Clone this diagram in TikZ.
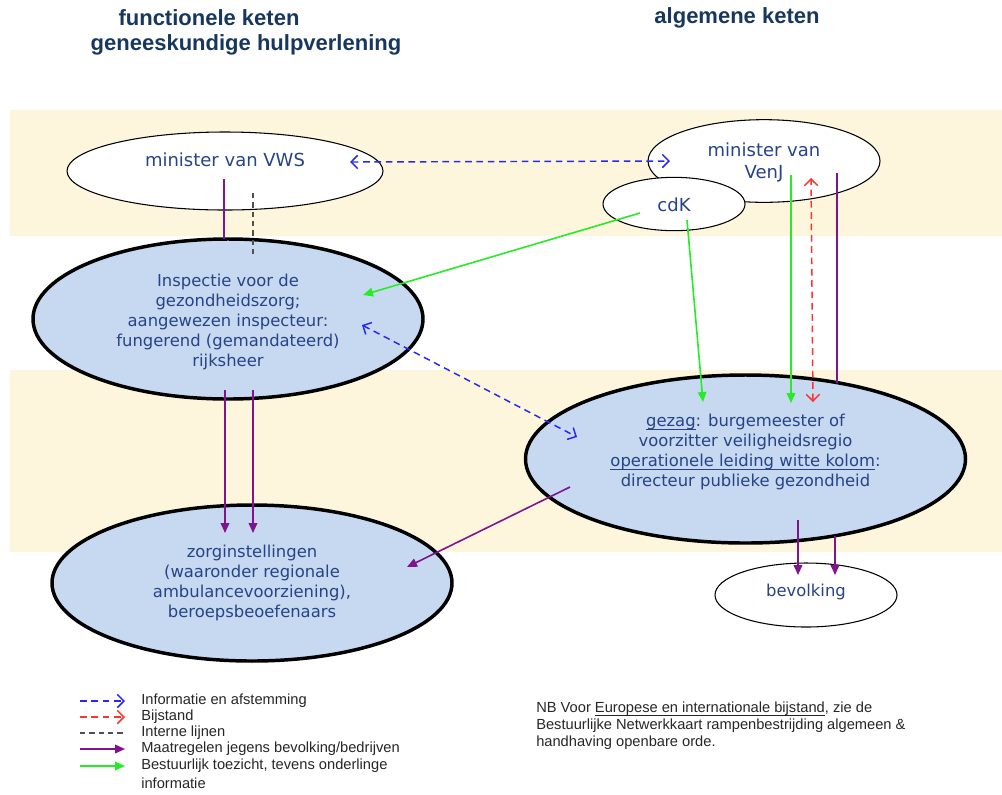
\documentclass[tikz,border=0pt]{standalone}
\usepackage{fontspec}
\setmainfont{DejaVu Sans}
\newfontfamily\arialf{Liberation Sans}
\usetikzlibrary{shapes.geometric,arrows.meta,calc}
\definecolor{cream}{RGB}{253,246,221}
\definecolor{lblue}{RGB}{198,217,241}
\definecolor{ntext}{RGB}{38,68,135}
\definecolor{ttext}{RGB}{23,55,94}
\definecolor{infoblue}{RGB}{40,40,240}
\definecolor{bred}{RGB}{250,50,50}
\definecolor{ggreen}{RGB}{40,235,40}
\definecolor{ppurple}{RGB}{128,20,140}
\definecolor{igray}{RGB}{80,80,80}
\newsavebox\ulbox
\newcommand\ulx[1]{\sbox\ulbox{#1}\rlap{\rule[-2.2pt]{\wd\ulbox}{0.6pt}}\usebox\ulbox}
\tikzset{
  ellbase/.style={ellipse, draw=black, inner sep=0pt},
  thinell/.style={ellbase, fill=white, line width=0.8pt},
  thickell/.style={ellbase, fill=lblue, line width=2.6pt},
  txt/.style={align=center, text=ntext, inner sep=0pt, font=\fontsize{12.3}{15}\selectfont},
  bigtxt/.style={txt, font=\fontsize{13.5}{16}\selectfont},
  title/.style={text=ttext, inner sep=0pt, font=\arialf\bfseries\fontsize{16.5}{20}\selectfont},
  legtxt/.style={anchor=west, inner sep=0pt, text=black!85, font=\arialf\fontsize{11}{12}\selectfont},
  barb/.tip={Straight Barb[length=5pt,width=10pt,line width=1.1pt]},
  tri/.tip={Triangle[length=7.5pt,width=6.5pt]},
  info/.style={draw=infoblue, line width=1.1pt, dash pattern=on 5pt off 3.5pt, barb-barb},
  infoone/.style={draw=infoblue, line width=1.1pt, dash pattern=on 5pt off 3.5pt, -barb},
  bijstand/.style={draw=bred, line width=1.1pt, dash pattern=on 5pt off 3.5pt, barb-barb},
  bijone/.style={draw=bred, line width=1.1pt, dash pattern=on 5pt off 3.5pt, -barb},
  intern/.style={draw=igray, line width=1pt, dash pattern=on 4pt off 3pt},
  maat/.style={draw=ppurple, line width=1.2pt, -tri},
  maatline/.style={draw=ppurple, line width=1.2pt},
  toez/.style={draw=ggreen, line width=1.2pt, -tri},
}
\begin{document}
\begin{tikzpicture}[x=0.75pt,y=-0.75pt]
\useasboundingbox (0,0) rectangle (1002,794);
\fill[cream] (10,110) rectangle (1002,236);
\fill[cream] (10,370) rectangle (1002,552);

% titles
\node[title] (t1a) at (209,18) {functionele keten};
\node[title] (t1b) at (246,45) {geneeskundige hulpverlening};
\node[title] (t2) at (737,18) {algemene keten};

% nodes
\node[thinell, minimum width=237pt, minimum height=58.5pt,
  label={[bigtxt,yshift=8.25pt]center:minister van VWS}] (vws) at (225,171) {};
\node[thinell, minimum width=174pt, minimum height=62pt,
  label={[bigtxt,yshift=-1pt]center:{minister van\\VenJ}}] (venj) at (764,161) {};
\node[thinell, minimum width=106.5pt, minimum height=40pt,
  label={[bigtxt,yshift=-0.5pt]center:cdK}] (cdk) at (674,204) {};
\node[thickell, minimum width=292.5pt, minimum height=120pt,
  label={[txt,yshift=-2pt]center:{Inspectie voor de\\gezondheidszorg;\\aangewezen inspecteur:\\fungerend (gemandateerd)\\rijksheer}}] (insp) at (228,319) {};
\node[thickell, minimum width=330pt, minimum height=126pt,
  label={[txt,yshift=5.25pt]center:{\ulx{gezag}: burgemeester of\\voorzitter veiligheidsregio\\\ulx{operationele leiding witte kolom}:\\directeur publieke gezondheid}}] (gez) at (745.5,459) {};
\node[thickell, minimum width=300pt, minimum height=117pt,
  label={[txt]center:{zorginstellingen\\(waaronder regionale\\ambulancevoorziening),\\beroepsbeoefenaars}}] (zorg) at (252,583) {};
\node[thinell, minimum width=136.5pt, minimum height=48pt,
  label={[txt,yshift=2pt]center:bevolking}] (bev) at (806,595) {};

% connectors
\draw[info] ($(vws)+(125,-9)$) -- ($(venj)+(-94,0)$);
\draw[maatline] ($(vws)+(-1,8)$) -- ($(insp)+(-4,-80)$);
\draw[intern] ($(vws)+(28,22)$) -- ($(insp)+(25,-64)$);
\draw[maat] ($(insp)+(-3,71)$) -- ($(zorg)+(-27,-50)$);
\draw[maat] ($(insp)+(25,71)$) -- ($(zorg)+(1,-50)$);
\draw[toez] ($(cdk)+(-34,9)$) -- ($(insp)+(135,-24)$);
\draw[toez] ($(cdk)+(13,16)$) -- ($(gez)+(-42.5,-57)$);
\draw[toez] ($(venj)+(27,14)$) -- ($(gez)+(45.5,-56)$);
\draw[bijstand] ($(gez)+(67.5,-57)$) -- ($(venj)+(47,17)$);
\draw[maatline] ($(venj)+(73,12)$) -- ($(gez)+(91.5,-76)$);
\draw[info] ($(insp)+(134,6)$) -- ($(gez)+(-168.5,-22)$);
\draw[maat] ($(gez)+(-175.5,28)$) -- ($(zorg)+(155,-16)$);
\draw[maat] ($(gez)+(52.5,61)$) -- ($(bev)+(-8,-20)$);
\draw[maat] ($(gez)+(89.5,77)$) -- ($(bev)+(29,-20)$);

% legend
\foreach \i/\yy in {1/701,2/717,3/733,4/749,5/766}{
  \coordinate (la\i) at (80,\yy);
  \coordinate (lb\i) at (125,\yy);
}
\draw[infoone] (la1) -- (lb1);
\draw[bijone] (la2) -- (lb2);
\draw[intern] (la3) -- (lb3);
\draw[maat] (la4) -- (lb4);
\draw[toez] (la5) -- (lb5);
\node[legtxt] (lt1) at (141,701) {Informatie en afstemming};
\node[legtxt] (lt2) at (141,717) {Bijstand};
\node[legtxt] (lt3) at (141,733) {Interne lijnen};
\node[legtxt] (lt4) at (141,749) {Maatregelen jegens bevolking/bedrijven};
\node[legtxt] (lt5) at (141,766) {Bestuurlijk toezicht, tevens onderlinge};
\node[legtxt] (lt6) at (141,783) {informatie};

% note
\node[anchor=north west, inner sep=0pt, align=left, text=black!85,
  font=\arialf\fontsize{11}{12.75}\selectfont] (nb) at (536,702)
  {NB Voor \ulx{Europese en internationale bijstand}, zie de\\
   Bestuurlijke Netwerkkaart rampenbestrijding algemeen \&\\
   handhaving openbare orde.};
\end{tikzpicture}
\end{document}
